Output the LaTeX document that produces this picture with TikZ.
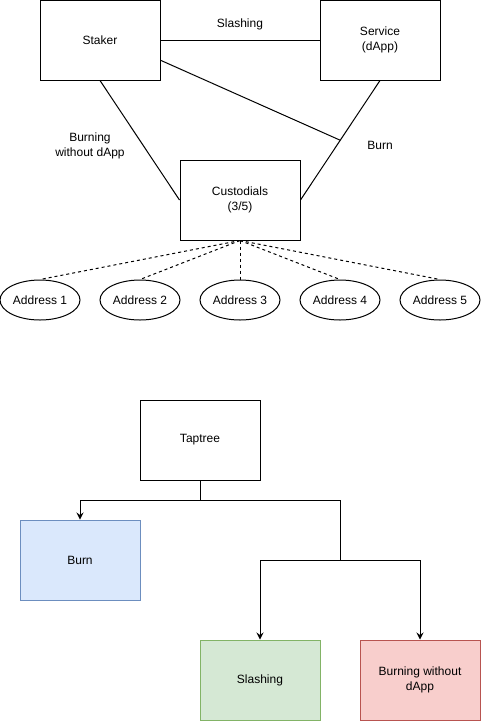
\documentclass[tikz,border=0pt]{standalone}
\usepackage{fontspec}
\setmainfont{Liberation Sans}
\usetikzlibrary{shapes.geometric,arrows.meta,calc}

\definecolor{burnfill}{HTML}{DAE8FC}
\definecolor{burndraw}{HTML}{6C8EBF}
\definecolor{slashfill}{HTML}{D5E8D4}
\definecolor{slashdraw}{HTML}{82B366}
\definecolor{nodappfill}{HTML}{F8CECC}
\definecolor{nodappdraw}{HTML}{B85450}

\begin{document}
\begin{tikzpicture}[x=1pt,y=-1pt,line width=1pt,
    every node/.style={font=\fontsize{12}{14.5}\selectfont,align=center},
    box/.style={draw,rectangle,minimum width=120pt,minimum height=80pt,inner sep=0pt},
    addr/.style={draw,ellipse,minimum width=80pt,minimum height=40pt,inner sep=0pt},
    link/.style={dash pattern=on 3pt off 3pt},
    branch/.style={-{Stealth[length=7pt,width=7pt,inset=2.5pt]}}]
        \useasboundingbox (0,0) rectangle (482,721);

        % parties
        \node[box] (st) at (100, 40) {Staker};
        \node[box] (sv) at (380, 40) {Service\\(dApp)};
        \node[box] (cu) at (240, 200) {Custodials\\(3/5)};

        \draw (st.east) to (sv.west);
        \node (lslash) at (240, 24) {Slashing};

        \draw (st.south) to (cu.west);
        \node (lnodapp) at (90, 146) {Burning\\without dApp};

        \draw (sv.south) to (cu.east);
        \coordinate (burnpt) at ($(sv.south)!0.5!(cu.east)$);
        \coordinate (stburn) at ($(st.east)!0.5!(st.south east)$);
        \draw (stburn) to (burnpt);
        \node (lburn) at (380, 145) {Burn};

        % addresses
        \foreach \i in {1,...,5} {
            \node[addr] (a\i) at (-60+100*\i, 300) {Address \i};
            \draw[link] (cu.south) to (a\i.north);
        }

        % taptree
        \node[box] (tt) at (200, 440) {Taptree};
        \node[box,draw=burndraw,fill=burnfill] (lb) at (80, 560) {Burn};
        \node[box,draw=slashdraw,fill=slashfill] (ls) at (260, 680) {Slashing};
        \node[box,draw=nodappdraw,fill=nodappfill] (ln) at (420, 680) {Burning without\\dApp};

        \coordinate (j1) at (200, 500);
        \coordinate (j2) at (340, 560);

        \draw[branch] (tt.south) |- (j1) -| (lb.north);
        \draw (j1) -| (j2);
        \draw[branch] (j2) -| (ls.north);
        \draw[branch] (j2) -| (ln.north);

    \end{tikzpicture}
\end{document}
